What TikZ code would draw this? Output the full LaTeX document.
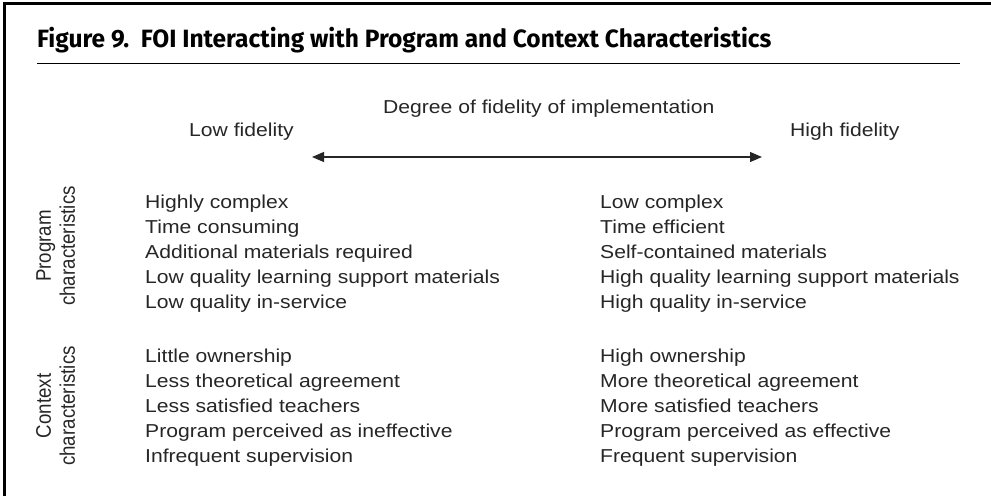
\documentclass[tikz,border=0pt]{standalone}
\usepackage{fontspec}
\setmainfont{Liberation Sans}
\newfontfamily\bodyfont[FakeStretch=1.13]{Liberation Sans}
\newfontfamily\titlefont[FakeStretch=0.98]{Fira Sans}
\usetikzlibrary{arrows.meta}
\definecolor{ink}{HTML}{262626}
\newcommand{\sidetext}[1]{\scalebox{1}[1.13]{\fontsize{18.7}{21.2}\selectfont\begin{tabular}{@{}c@{}}#1\end{tabular}}}
\tikzset{
  body/.style={font=\bodyfont\fontsize{18.7}{24}\selectfont, text=ink, inner sep=0pt, anchor=base west},
  sidelabel/.style={text=ink, rotate=90, inner sep=0pt},
  frame/.style={line width=2.5pt, black},
  scale arrow/.style={draw=ink, line width=1.2pt, {Triangle[length=12pt,width=10pt]}-{Triangle[length=12pt,width=10pt]}}
}
\begin{document}
\begin{tikzpicture}[x=1pt,y=-1pt]
  \useasboundingbox (0,0) rectangle (991,496);
  % outer frame (left and top edges)
  \draw[frame] (4.5,496) -- (4.5,3.5) -- (991,3.5);
  % heading and rule
  \node[inner sep=0pt, anchor=base west, font=\titlefont\bfseries\fontsize{25}{28}\selectfont] (title) at (37,47)
    {Figure 9.\ \ FOI Interacting with Program and Context Characteristics};
  \draw[line width=1.3pt] (37,63.5) -- (960,63.5);
  % fidelity scale
  \node[body] (degree) at (383,113) {Degree of fidelity of implementation};
  \node[body] (low) at (189,136) {Low fidelity};
  \node[body] (high) at (790,136) {High fidelity};
  \coordinate (lowend) at (312,157);
  \coordinate (highend) at (762,157);
  \draw[scale arrow] (lowend) -- (highend);
  % row group labels
  \node[sidelabel] (prog) at (58,246) {\sidetext{Program\\characteristics}};
  \node[sidelabel] (ctx) at (58,406) {\sidetext{Context\\characteristics}};
  % program characteristics
  \node[body] (p1l) at (145,208) {Highly complex};
  \node[body] (p2l) at (145,233) {Time consuming};
  \node[body] (p3l) at (145,258) {Additional materials required};
  \node[body] (p4l) at (145,283) {Low quality learning support materials};
  \node[body] (p5l) at (145,308) {Low quality in-service};
  \node[body] (p1r) at (600,208) {Low complex};
  \node[body] (p2r) at (600,233) {Time efficient};
  \node[body] (p3r) at (600,258) {Self-contained materials};
  \node[body] (p4r) at (600,283) {High quality learning support materials};
  \node[body] (p5r) at (600,308) {High quality in-service};
  % context characteristics
  \node[body] (c1l) at (145,362) {Little ownership};
  \node[body] (c2l) at (145,387) {Less theoretical agreement};
  \node[body] (c3l) at (145,412) {Less satisfied teachers};
  \node[body] (c4l) at (145,437) {Program perceived as ineffective};
  \node[body] (c5l) at (145,462) {Infrequent supervision};
  \node[body] (c1r) at (600,362) {High ownership};
  \node[body] (c2r) at (600,387) {More theoretical agreement};
  \node[body] (c3r) at (600,412) {More satisfied teachers};
  \node[body] (c4r) at (600,437) {Program perceived as effective};
  \node[body] (c5r) at (600,462) {Frequent supervision};
\end{tikzpicture}
\end{document}
